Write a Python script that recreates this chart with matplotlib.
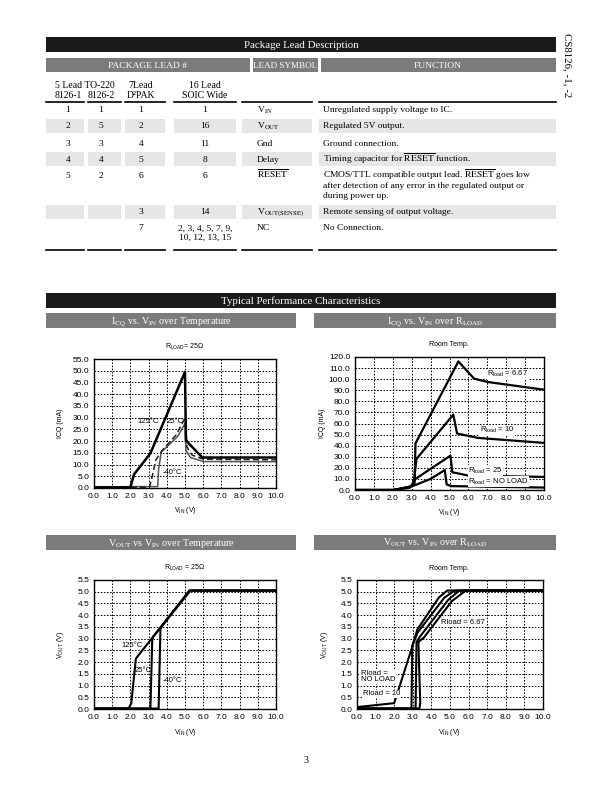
import numpy as np
import matplotlib
matplotlib.use('Agg')
import matplotlib.pyplot as plt
from matplotlib.patches import Rectangle
from matplotlib.lines import Line2D

# ---------------- table data ----------------
col_5lead_1 = ['1', '2', '3', '4', '5', '', '']
col_5lead_2 = ['1', '5', '3', '4', '2', '', '']
col_7lead = ['1', '2', '4', '5', '6', '3', '7']
col_16lead = ['1', '16', '11', '8', '6', '14', '2, 3, 4, 5, 7, 9,\n10, 12, 13, 15']
lead_symbols = [r'V$_{\rm IN}$', r'V$_{\rm OUT}$', 'Gnd', 'Delay', r'$\overline{\rm RESET}$',
                r'V$_{\rm OUT(SENSE)}$', 'NC']
lead_functions = [
    'Unregulated supply voltage to IC.',
    'Regulated 5V output.',
    'Ground connection.',
    r'Timing capacitor for $\overline{\rm RESET}$ function.',
    'CMOS/TTL compatible output lead. $\\overline{\\rm RESET}$ goes low\n'
    'after detection of any error in the regulated output or\nduring power up.',
    'Remote sensing of output voltage.',
    'No Connection.',
]

# ---------------- chart data ----------------
x_ticks = [0.0, 1.0, 2.0, 3.0, 4.0, 5.0, 6.0, 7.0, 8.0, 9.0, 10.0]

# ICQ vs VIN over temperature (RLOAD = 25 ohm)
icqT_vin_125 = [0, 2.0, 2.2, 3.1, 5.0, 5.05, 5.95, 10.0]
icqT_125 = [0.3, 0.3, 5.8, 14.8, 49.5, 20.3, 13.0, 13.0]
icqT_vin_25 = [0, 3.05, 3.2, 3.4, 3.8, 4.5, 5.05, 5.1, 5.4, 6.0, 10.0]
icqT_25 = [0.3, 0.3, 5.0, 12.0, 16.5, 22.5, 30.5, 17.5, 14.0, 12.3, 12.0]
icqT_vin_m40 = [0, 2.0, 3.5, 3.55, 3.7, 4.0, 4.6, 5.0, 5.05, 5.3, 6.0, 10.0]
icqT_m40 = [0.1, 0.6, 0.6, 8.0, 15.5, 17.5, 22.0, 27.5, 16.0, 13.0, 11.3, 11.2]
icqT_labels = ['125°C', '25°C', '-40°C']

# ICQ vs VIN over RLOAD (room temp)
icqR_vin_667 = [0, 2.0, 2.9, 3.15, 3.2, 5.47, 6.3, 7.0, 10.0]
icqR_667 = [0, 0, 3, 5, 42, 116, 100.5, 97.5, 90.5]
icqR_vin_10 = [0, 2.0, 2.9, 3.1, 3.25, 5.2, 5.4, 6.5, 10.0]
icqR_10 = [0, 0, 2.5, 5, 28, 68, 51, 47, 42.5]
icqR_vin_25 = [0, 2.0, 2.9, 3.2, 5.05, 5.15, 6.0, 10.0]
icqR_25 = [0, 0, 2, 10, 31, 16, 13, 11.8]
icqR_vin_nl = [0, 2.1, 2.9, 3.2, 4.0, 4.75, 4.85, 5.1, 10.0]
icqR_nl = [0, 0, 3, 4.5, 10, 18, 5, 3.5, 2.2]
icqR_labels = [r'R$_{\rm load}$ = 6.67', r'R$_{\rm load}$ = 10',
               r'R$_{\rm load}$ = 25', r'R$_{\rm load}$ = NO LOAD']

# VOUT vs VIN over temperature
voutT_vin_125 = [0, 1.9, 2.05, 2.3, 5.25, 10.0]
voutT_125 = [0.02, 0.02, 0.25, 2.15, 5.05, 5.05]
voutT_vin_25 = [0, 3.1, 3.2, 3.25, 5.25, 10.0]
voutT_25 = [0.02, 0.02, 2.95, 3.07, 5.05, 5.05]
voutT_vin_m40 = [0, 3.55, 3.65, 3.75, 5.3, 10.0]
voutT_m40 = [0.02, 0.02, 3.4, 3.55, 5.05, 5.05]

# VOUT vs VIN over RLOAD
voutR_vin_nl = [0, 2.0, 2.95, 3.25, 4.4, 4.85, 10.0]
voutR_nl = [0.08, 0.25, 2.6, 3.4, 4.75, 5.05, 5.05]
voutR_vin_25 = [0, 2.93, 2.97, 3.25, 4.7, 5.25, 10.0]
voutR_25 = [0.02, 0.02, 2.7, 3.25, 4.75, 5.05, 5.05]
voutR_vin_10 = [0, 3.15, 3.2, 3.4, 4.9, 5.5, 10.0]
voutR_10 = [0.02, 0.02, 2.85, 3.1, 4.65, 5.05, 5.05]
voutR_vin_667 = [0, 3.35, 3.4, 3.3, 3.6, 5.1, 5.85, 10.0]
voutR_667 = [0.02, 0.02, 0.25, 2.85, 3.05, 4.6, 5.05, 5.05]

# ---------------- figure helpers ----------------
W, H = 612, 792
SERIF = 'Liberation Serif'
SANS = 'Liberation Sans'
plt.rcParams['mathtext.fontset'] = 'custom'
plt.rcParams['mathtext.rm'] = SANS
plt.rcParams['mathtext.it'] = SANS + ':italic'
plt.rcParams['mathtext.bf'] = SANS + ':bold'
plt.rcParams['font.family'] = SANS

fig = plt.figure(figsize=(6.12, 7.92), dpi=100)


def fx(x):
    return x / W


def fy(y):
    return 1 - y / H


def rect(x0, y0, x1, y1, color):
    fig.patches.append(Rectangle((fx(x0), fy(y1)), fx(x1) - fx(x0), fy(y0) - fy(y1),
                                 transform=fig.transFigure, facecolor=color,
                                 edgecolor='none', zorder=0))


def hline(x0, x1, y, lw=1.0):
    fig.add_artist(Line2D([fx(x0), fx(x1)], [fy(y), fy(y)], color='black', lw=lw,
                          transform=fig.transFigure))


def stext(x, y, s, size=6.8, ha='left', color='black', va='baseline', **kw):
    fig.text(fx(x), fy(y), s, ha=ha, va=va, fontsize=size, color=color,
             family=SERIF, math_fontfamily='stix', **kw)


def mtext(x, y, s, step=10.5, **kw):
    # place each line separately at a fixed pitch (baseline positions)
    for k, line in enumerate(s.split('\n')):
        stext(x, y + k * step, line, **kw)


BAR_DARK = '#1a1a1a'
BAR_GRAY = '#7b7b7b'
ROW_GRAY = '#e6e6e6'

# ---------------- table ----------------
rect(46, 37, 556, 52, BAR_DARK)
stext(301, 47.5, 'Package Lead Description', size=7.8, ha='center', color='white')
rect(46, 58, 250, 72, BAR_GRAY)
rect(253, 58, 318, 72, BAR_GRAY)
rect(321, 58, 556, 72, BAR_GRAY)
stext(148, 68, 'PACKAGE LEAD #', size=6.8, ha='center', color='white')
stext(285.5, 68, 'LEAD SYMBOL', size=6.6, ha='center', color='white')
stext(438, 68, 'FUNCTION', size=6.8, ha='center', color='white')

segs = [(46, 84), (88, 121), (125, 165), (174, 236), (242, 312), (319, 556)]
centers = [68, 101, 141, 205]
stext(85, 88.5, '5 Lead TO-220', size=7.0, ha='center')
stext(centers[0], 97.5, '8126-1', size=7.0, ha='center')
stext(centers[1], 97.5, '8126-2', size=7.0, ha='center')
stext(centers[2], 88.5, '7Lead', size=7.0, ha='center')
stext(centers[2], 97.5, 'D²PAK', size=7.0, ha='center')
stext(centers[3], 88.5, '16 Lead', size=7.0, ha='center')
stext(centers[3], 97.5, 'SOIC Wide', size=7.0, ha='center')
for a, b in segs:
    hline(a, b, 101.5, lw=1.2)
    hline(a, b, 250, lw=1.2)

row_y = [110, 126, 143, 159, 175, 212, 228]
gray_rows = [1, 3, 5]
for i in gray_rows:
    for a, b in segs:
        rect(a, row_y[i] - 7, b, row_y[i] + 7, ROW_GRAY)

for i, yy in enumerate(row_y):
    base = yy + 2.5
    for c, col in zip(centers, [col_5lead_1, col_5lead_2, col_7lead, col_16lead]):
        if col[i]:
            mtext(c, base, col[i], step=9, ha='center')
    stext(257, base, lead_symbols[i])
    mtext(323, base, lead_functions[i], step=10.5)

fig.text(fx(567), fy(33), 'CS8126, -1, -2', rotation=-90, ha='center', va='top',
         fontsize=7.8, family=SERIF)

# ---------------- section headers ----------------
rect(46, 293, 556, 308, BAR_DARK)
stext(301, 303.5, 'Typical Performance Characteristics', size=7.8, ha='center', color='white')
rect(46, 313, 296, 328, BAR_GRAY)
rect(314, 313, 556, 328, BAR_GRAY)
stext(171, 323.5, r'I$_{\rm CQ}$ vs. V$_{\rm IN}$ over Temperature', size=7.2, ha='center', color='white')
stext(435, 323.5, r'I$_{\rm CQ}$ vs. V$_{\rm IN}$ over R$_{\rm LOAD}$', size=7.2, ha='center', color='white')
rect(46, 535, 296, 550, BAR_GRAY)
rect(314, 535, 556, 550, BAR_GRAY)
stext(171, 545.5, r'V$_{\rm OUT}$ vs V$_{\rm IN}$ over Temperature', size=7.2, ha='center', color='white')
stext(435, 545.5, r'V$_{\rm OUT}$ vs. V$_{\rm IN}$ over R$_{\rm LOAD}$', size=7.2, ha='center', color='white')

stext(306, 763, '3', size=7.2, ha='center')


# ---------------- charts ----------------
def make_axes(left, right, top, bottom, ymax, ystep):
    ax = fig.add_axes([fx(left), fy(bottom), fx(right) - fx(left), fy(top) - fy(bottom)])
    ax.set_xlim(0, 10)
    ax.set_ylim(0, ymax)
    ax.set_xticks(x_ticks)
    ax.set_xticklabels([f'{v:.1f}' for v in x_ticks])
    yt = np.round(np.arange(0, ymax + ystep / 2, ystep), 3)
    ax.set_yticks(yt)
    ax.set_yticklabels([f'{v:.1f}' for v in yt])
    ax.grid(True, color='black', linestyle=(0, (1.6, 1.6)), linewidth=0.7)
    ax.tick_params(length=0, labelsize=6, pad=3.5)
    for s in ax.spines.values():
        s.set_linewidth(1.0)
    return ax


def ctext(x, y, s, size=5.0, **kw):
    fig.text(fx(x), fy(y), s, ha='center', va='center', fontsize=size, family=SANS, **kw)


# Chart 1
ax1 = make_axes(94, 276, 359, 488, 55, 5)
ax1.plot(icqT_vin_m40, icqT_m40, color='#555555', lw=1.1)
ax1.plot(icqT_vin_25, icqT_25, color='#222222', lw=1.1, linestyle=(0, (4, 2)))
ax1.plot(icqT_vin_125, icqT_125, color='black', lw=1.8)
ax1.text(3.0, 28.3, icqT_labels[0], fontsize=5.5, ha='center', va='center')
ax1.text(4.45, 28.3, icqT_labels[1], fontsize=5.5, ha='center', va='center')
ax1.text(4.3, 6.6, icqT_labels[2], fontsize=5.5, ha='center', va='center')
ctext(185, 347, r'R$_{\rm LOAD}$= 25Ω')
ctext(185, 511, r'V$_{\rm IN}$ (V)')
ctext(60, 423, 'ICQ (mA)', rotation=90)

# Chart 2
ax2 = make_axes(355, 544, 357, 490, 120, 10)
for xs, ys in [(icqR_vin_nl, icqR_nl), (icqR_vin_25, icqR_25),
               (icqR_vin_10, icqR_10), (icqR_vin_667, icqR_667)]:
    ax2.plot(xs, ys, color='black', lw=1.6)
lbl_pos = [(7.0, 104.5), (6.6, 54), (6.0, 17.3), (6.0, 7.6)]
for (lx, ly), s in zip(lbl_pos, icqR_labels):
    ax2.text(lx, ly, s, fontsize=5.5, ha='left', va='center',
             bbox=dict(facecolor='white', edgecolor='none', pad=0.3))
ctext(449, 345, 'Room Temp.')
ctext(449, 513, r'V$_{\rm IN}$ (V)')
ctext(323, 423, 'ICQ (mA)', rotation=90)

# Chart 3
ax3 = make_axes(94, 276, 580, 709, 5.5, 0.5)
ax3.plot(voutT_vin_m40, voutT_m40, color='black', lw=1.5)
ax3.plot(voutT_vin_25, voutT_25, color='black', lw=1.5)
ax3.plot(voutT_vin_125, voutT_125, color='black', lw=1.5)
ax3.text(2.1, 2.7, icqT_labels[0], fontsize=5.5, ha='center', va='center')
ax3.text(2.7, 1.66, icqT_labels[1], fontsize=5.5, ha='center', va='center')
ax3.text(4.3, 1.2, icqT_labels[2], fontsize=5.5, ha='center', va='center')
ctext(185, 568, r'R$_{\rm LOAD}$ = 25Ω')
ctext(185, 733, r'V$_{\rm IN}$ (V)')
ctext(60, 645, r'V$_{\rm OUT}$ (V)', rotation=90)

# Chart 4
ax4 = make_axes(357, 543, 580, 709, 5.5, 0.5)
for xs, ys in [(voutR_vin_nl, voutR_nl), (voutR_vin_25, voutR_25),
               (voutR_vin_10, voutR_10), (voutR_vin_667, voutR_667)]:
    ax4.plot(xs, ys, color='black', lw=1.5)
ax4.text(4.5, 3.7, 'Rload = 6.67', fontsize=5.5, ha='left', va='center',
         bbox=dict(facecolor='white', edgecolor='none', pad=0.3))
ax4.text(0.2, 1.38, 'Rload =\nNO LOAD', fontsize=5.5, ha='left', va='center', linespacing=0.9,
         bbox=dict(facecolor='white', edgecolor='none', pad=0.3))
ax4.text(0.3, 0.65, 'Rload = 10', fontsize=5.5, ha='left', va='center',
         bbox=dict(facecolor='white', edgecolor='none', pad=0.3))
ctext(449, 568, 'Room Temp.')
ctext(449, 733, r'V$_{\rm IN}$ (V)')
ctext(325, 645, r'V$_{\rm OUT}$ (V)', rotation=90)

fig.savefig('out.png', dpi=100)
